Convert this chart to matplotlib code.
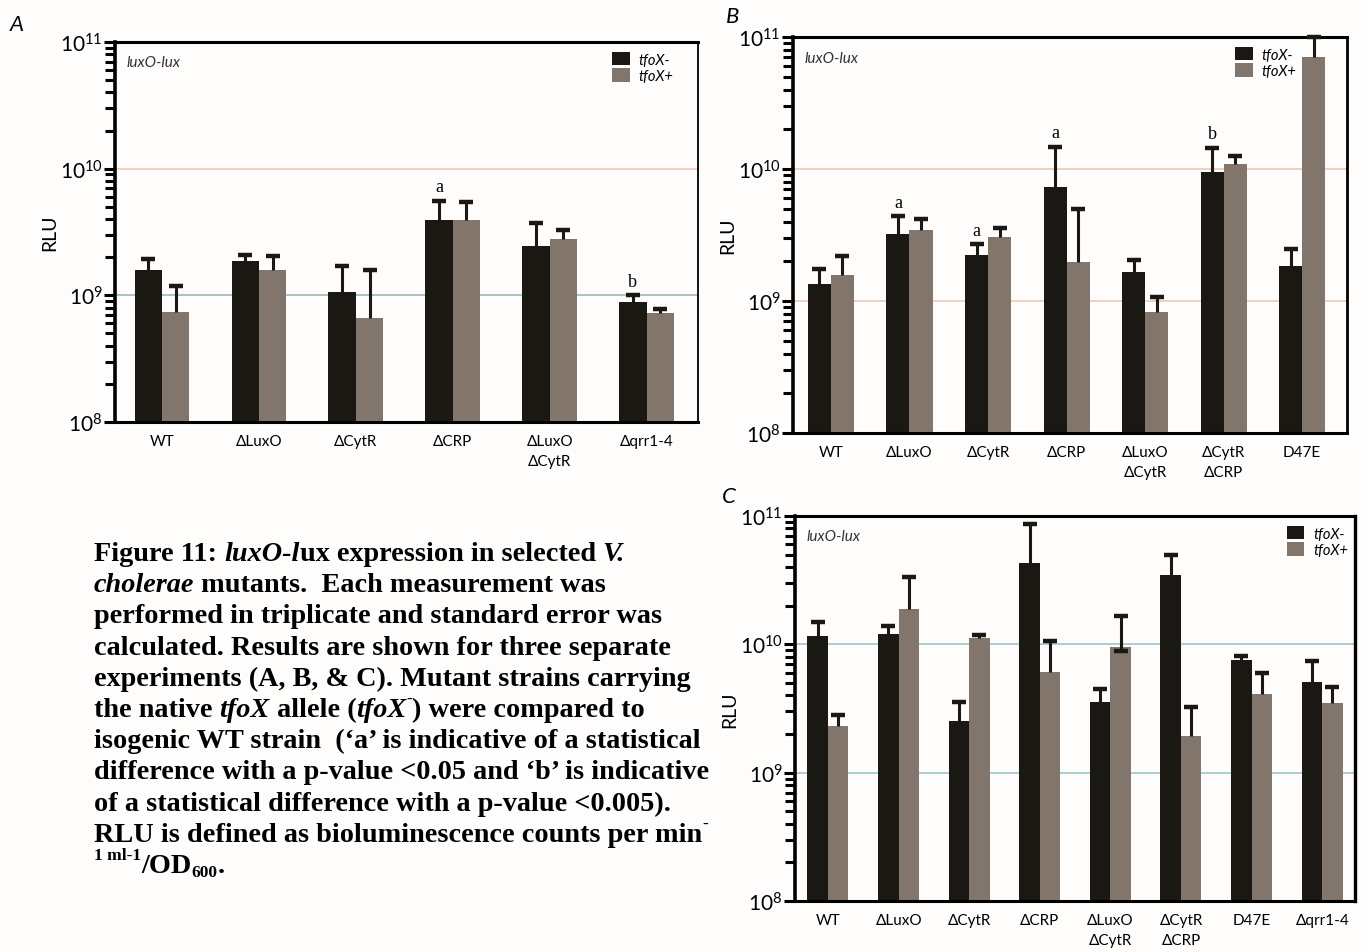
# luxO-lux expression, three experiments (A, B, C) + caption
import matplotlib
matplotlib.use('Agg')
import matplotlib.pyplot as plt
import numpy as np
from matplotlib.ticker import LogLocator, NullFormatter

plt.rcParams['font.family'] = ['Lato', 'DejaVu Sans']
plt.rcParams['mathtext.default'] = 'regular'

# ---------------- data (RLU, bar value and top of the error bar) ----------------
a_labels = ['WT', 'ΔLuxO', 'ΔCytR', 'ΔCRP', 'ΔLuxO\nΔCytR', 'Δqrr1-4']
a_neg = [1.59e9, 1.85e9, 1.06e9, 3.9e9, 2.45e9, 8.9e8]
a_neg_hi = [1.95e9, 2.07e9, 1.71e9, 5.6e9, 3.7e9, 1.0e9]
a_pos = [7.35e8, 1.59e9, 6.6e8, 3.9e9, 2.77e9, 7.2e8]
a_pos_hi = [1.19e9, 2.04e9, 1.59e9, 5.5e9, 3.26e9, 7.8e8]
a_marks = {3: 'a', 5: 'b'}

b_labels = ['WT', 'ΔLuxO', 'ΔCytR', 'ΔCRP', 'ΔLuxO\nΔCytR', 'ΔCytR\nΔCRP', 'D47E']
b_neg = [1.35e9, 3.2e9, 2.24e9, 7.3e9, 1.67e9, 9.5e9, 1.85e9]
b_neg_hi = [1.74e9, 4.4e9, 2.7e9, 1.47e10, 2.05e9, 1.45e10, 2.47e9]
b_pos = [1.58e9, 3.48e9, 3.05e9, 1.96e9, 8.2e8, 1.09e10, 7.05e10]
b_pos_hi = [2.21e9, 4.2e9, 3.6e9, 4.95e9, 1.07e9, 1.26e10, 1.0e11]
b_marks = {1: 'a', 2: 'a', 3: 'a', 5: 'b'}

c_labels = ['WT', 'ΔLuxO', 'ΔCytR', 'ΔCRP', 'ΔLuxO\nΔCytR', 'ΔCytR\nΔCRP', 'D47E', 'Δqrr1-4']
c_neg = [1.155e10, 1.2e10, 2.52e9, 4.3e10, 3.56e9, 3.44e10, 7.5e9, 5.07e9]
c_neg_hi = [1.49e10, 1.4e10, 3.56e9, 8.7e10, 4.48e9, 4.93e10, 8.07e9, 7.4e9]
c_pos = [2.29e9, 1.87e10, 1.13e10, 6.08e9, 9.6e9, 1.94e9, 4.1e9, 3.5e9]
c_pos_hi = [2.79e9, 3.36e10, 1.18e10, 1.07e10, 1.66e10, 3.25e9, 5.96e9, 4.64e9]
c_pos_lo = [None, None, None, None, 8.8e9, None, None, None]
c_marks = {}

BLACK = '#1a1813'
GRAY = '#82766c'
BG = '#fffdfb'
W, H = 1367, 953

fig = plt.figure(figsize=(W / 100, H / 100), dpi=100, facecolor=BG)


def err_bars(ax, x, val, hi, lo=None):
    for xi, v, h in zip(x, val, hi):
        ax.plot([xi, xi], [v, h], color=BLACK, lw=2.2, zorder=3, solid_capstyle='butt')
        ax.plot([xi], [h], marker='_', ms=10, mew=3.2, color=BLACK, zorder=3, clip_on=False)
    if lo is not None:
        for xi, v, l in zip(x, val, lo):
            if l is None:
                continue
            ax.plot([xi, xi], [l, v], color=BLACK, lw=2.2, zorder=3)
            ax.plot([xi], [l], marker='_', ms=10, mew=3.2, color=BLACK, zorder=3)


def panel(rect, labels, neg, neg_hi, pos, pos_hi, marks, xlim, bw, grid_cols,
          leg_x, right_lw, pos_lo=None):
    ax = fig.add_axes([rect[0] / W, 1 - rect[3] / H, (rect[2] - rect[0]) / W,
                       (rect[3] - rect[1]) / H])
    ax.set_facecolor(BG)
    x = np.arange(len(labels))
    ax.set_yscale('log')
    ax.set_ylim(1e8, 1e11)
    ax.set_xlim(*xlim)
    ax.axhline(1e10, color=grid_cols[0], lw=1.1, zorder=0)
    ax.axhline(1e9, color=grid_cols[1], lw=1.1, zorder=0)
    b1 = ax.bar(x - bw / 2, neg, bw, color=BLACK, label='tfoX-', zorder=2)
    b2 = ax.bar(x + bw / 2, pos, bw, color=GRAY, label='tfoX+', zorder=2)
    err_bars(ax, x - bw / 2, neg, neg_hi)
    err_bars(ax, x + bw / 2, pos, pos_hi, pos_lo)
    for i, m in marks.items():
        ax.annotate(m, (x[i] - bw / 2, neg_hi[i]), xytext=(0, 4), textcoords='offset points',
                    ha='center', va='bottom', fontsize=13, family='Liberation Serif')
    ax.set_xticks(x)
    ax.set_xticklabels(labels, fontsize=11, linespacing=1.5)
    ax.tick_params(axis='x', length=0, pad=9)
    ax.yaxis.set_major_locator(LogLocator(base=10, numticks=5))
    ax.yaxis.set_minor_locator(LogLocator(base=10, subs=np.arange(2, 10), numticks=20))
    ax.yaxis.set_minor_formatter(NullFormatter())
    ax.tick_params(axis='y', which='major', length=8, width=2.2, labelsize=15, pad=1)
    ax.tick_params(axis='y', which='minor', length=7, width=2.2)
    ax.set_ylabel('RLU', fontsize=14, labelpad=1)
    ax.spines['left'].set_linewidth(2.6)
    ax.spines['bottom'].set_linewidth(2.2)
    ax.spines['top'].set_linewidth(2.2)
    ax.spines['right'].set_linewidth(right_lw)
    ax.text(0.02, 0.965, 'luxO-lux', transform=ax.transAxes, fontsize=11,
            style='italic', va='top', color='#333333')
    ax.legend(handles=[b1, b2], loc='upper left', bbox_to_anchor=(leg_x, 1.0),
              frameon=False, prop={'style': 'italic', 'size': 10.5}, handlelength=1.2,
              handleheight=1.0, handletextpad=0.6, labelspacing=0.12, borderaxespad=0.3)
    return ax


panel((115, 43, 698, 423), a_labels, a_neg, a_neg_hi, a_pos, a_pos_hi, a_marks,
      (-0.485, 5.53), 0.283, ('#f2c3ab', '#8fb3b5'), 0.835, 1.3)
panel((793, 38, 1347, 434), b_labels, b_neg, b_neg_hi, b_pos, b_pos_hi, b_marks,
      (-0.484, 6.573), 0.293, ('#eec3ae', '#e9c4b4'), 0.78, 2.0)
panel((795, 517, 1355, 902), c_labels, c_neg, c_neg_hi, c_pos, c_pos_hi, c_marks,
      (-0.467, 7.465), 0.29, ('#93c2c8', '#93c2c8'), 0.86, 2.4, pos_lo=c_pos_lo)

for letter, px, py in [('A', 17, 25), ('B', 733, 17), ('C', 729, 497)]:
    fig.text(px / W, 1 - py / H, letter, style='italic', fontsize=16, va='center', ha='center')

# ---------------- caption ----------------
CAP = 20.3
renderer = fig.canvas.get_renderer()


def text_w(s, **kw):
    t = fig.text(0, 0, s, **kw)
    w = t.get_window_extent(renderer).width
    t.remove()
    return w


def put_runs(x_px, y_px, runs):
    for txt, italic, kind in runs:
        size, dy = CAP, 0.0
        if kind == 'sup':
            size, dy = CAP * 0.62, CAP * 100 / 72 * 0.45
        elif kind == 'sub':
            size, dy = CAP * 0.62, -CAP * 100 / 72 * 0.15
        kw = dict(fontsize=size, fontweight='bold', family='Liberation Serif',
                  style='italic' if italic else 'normal')
        fig.text(x_px / W, (H - y_px + dy) / H, txt, va='baseline', ha='left', **kw)
        x_px += text_w(txt + '|', **kw) - text_w('|', **kw)


caption = [
    [('Figure 11: ', 0, ''), ('luxO-l', 1, ''), ('ux expression in selected ', 0, ''), ('V.', 1, '')],
    [('cholerae', 1, ''), (' mutants.  Each measurement was', 0, '')],
    [('performed in triplicate and standard error was', 0, '')],
    [('calculated. Results are shown for three separate', 0, '')],
    [('experiments (A, B, & C). Mutant strains carrying', 0, '')],
    [('the native ', 0, ''), ('tfoX', 1, ''), (' allele (', 0, ''), ('tfoX', 1, ''), ('-', 0, 'sup'),
     (') were compared to', 0, '')],
    [('isogenic WT strain  (‘a’ is indicative of a statistical', 0, '')],
    [('difference with a p-value <0.05 and ‘b’ is indicative', 0, '')],
    [('of a statistical difference with a p-value <0.005).', 0, '')],
    [('RLU is defined as bioluminescence counts per min', 0, ''), ('-', 0, 'sup')],
    [('1 ml-1', 0, 'sup'), ('/OD', 0, ''), ('600', 0, 'sub'), ('.', 0, '')],
]
for i, runs in enumerate(caption):
    put_runs(94, 561 + i * 31.2, runs)

fig.savefig('out.png', dpi=100, facecolor=BG)
